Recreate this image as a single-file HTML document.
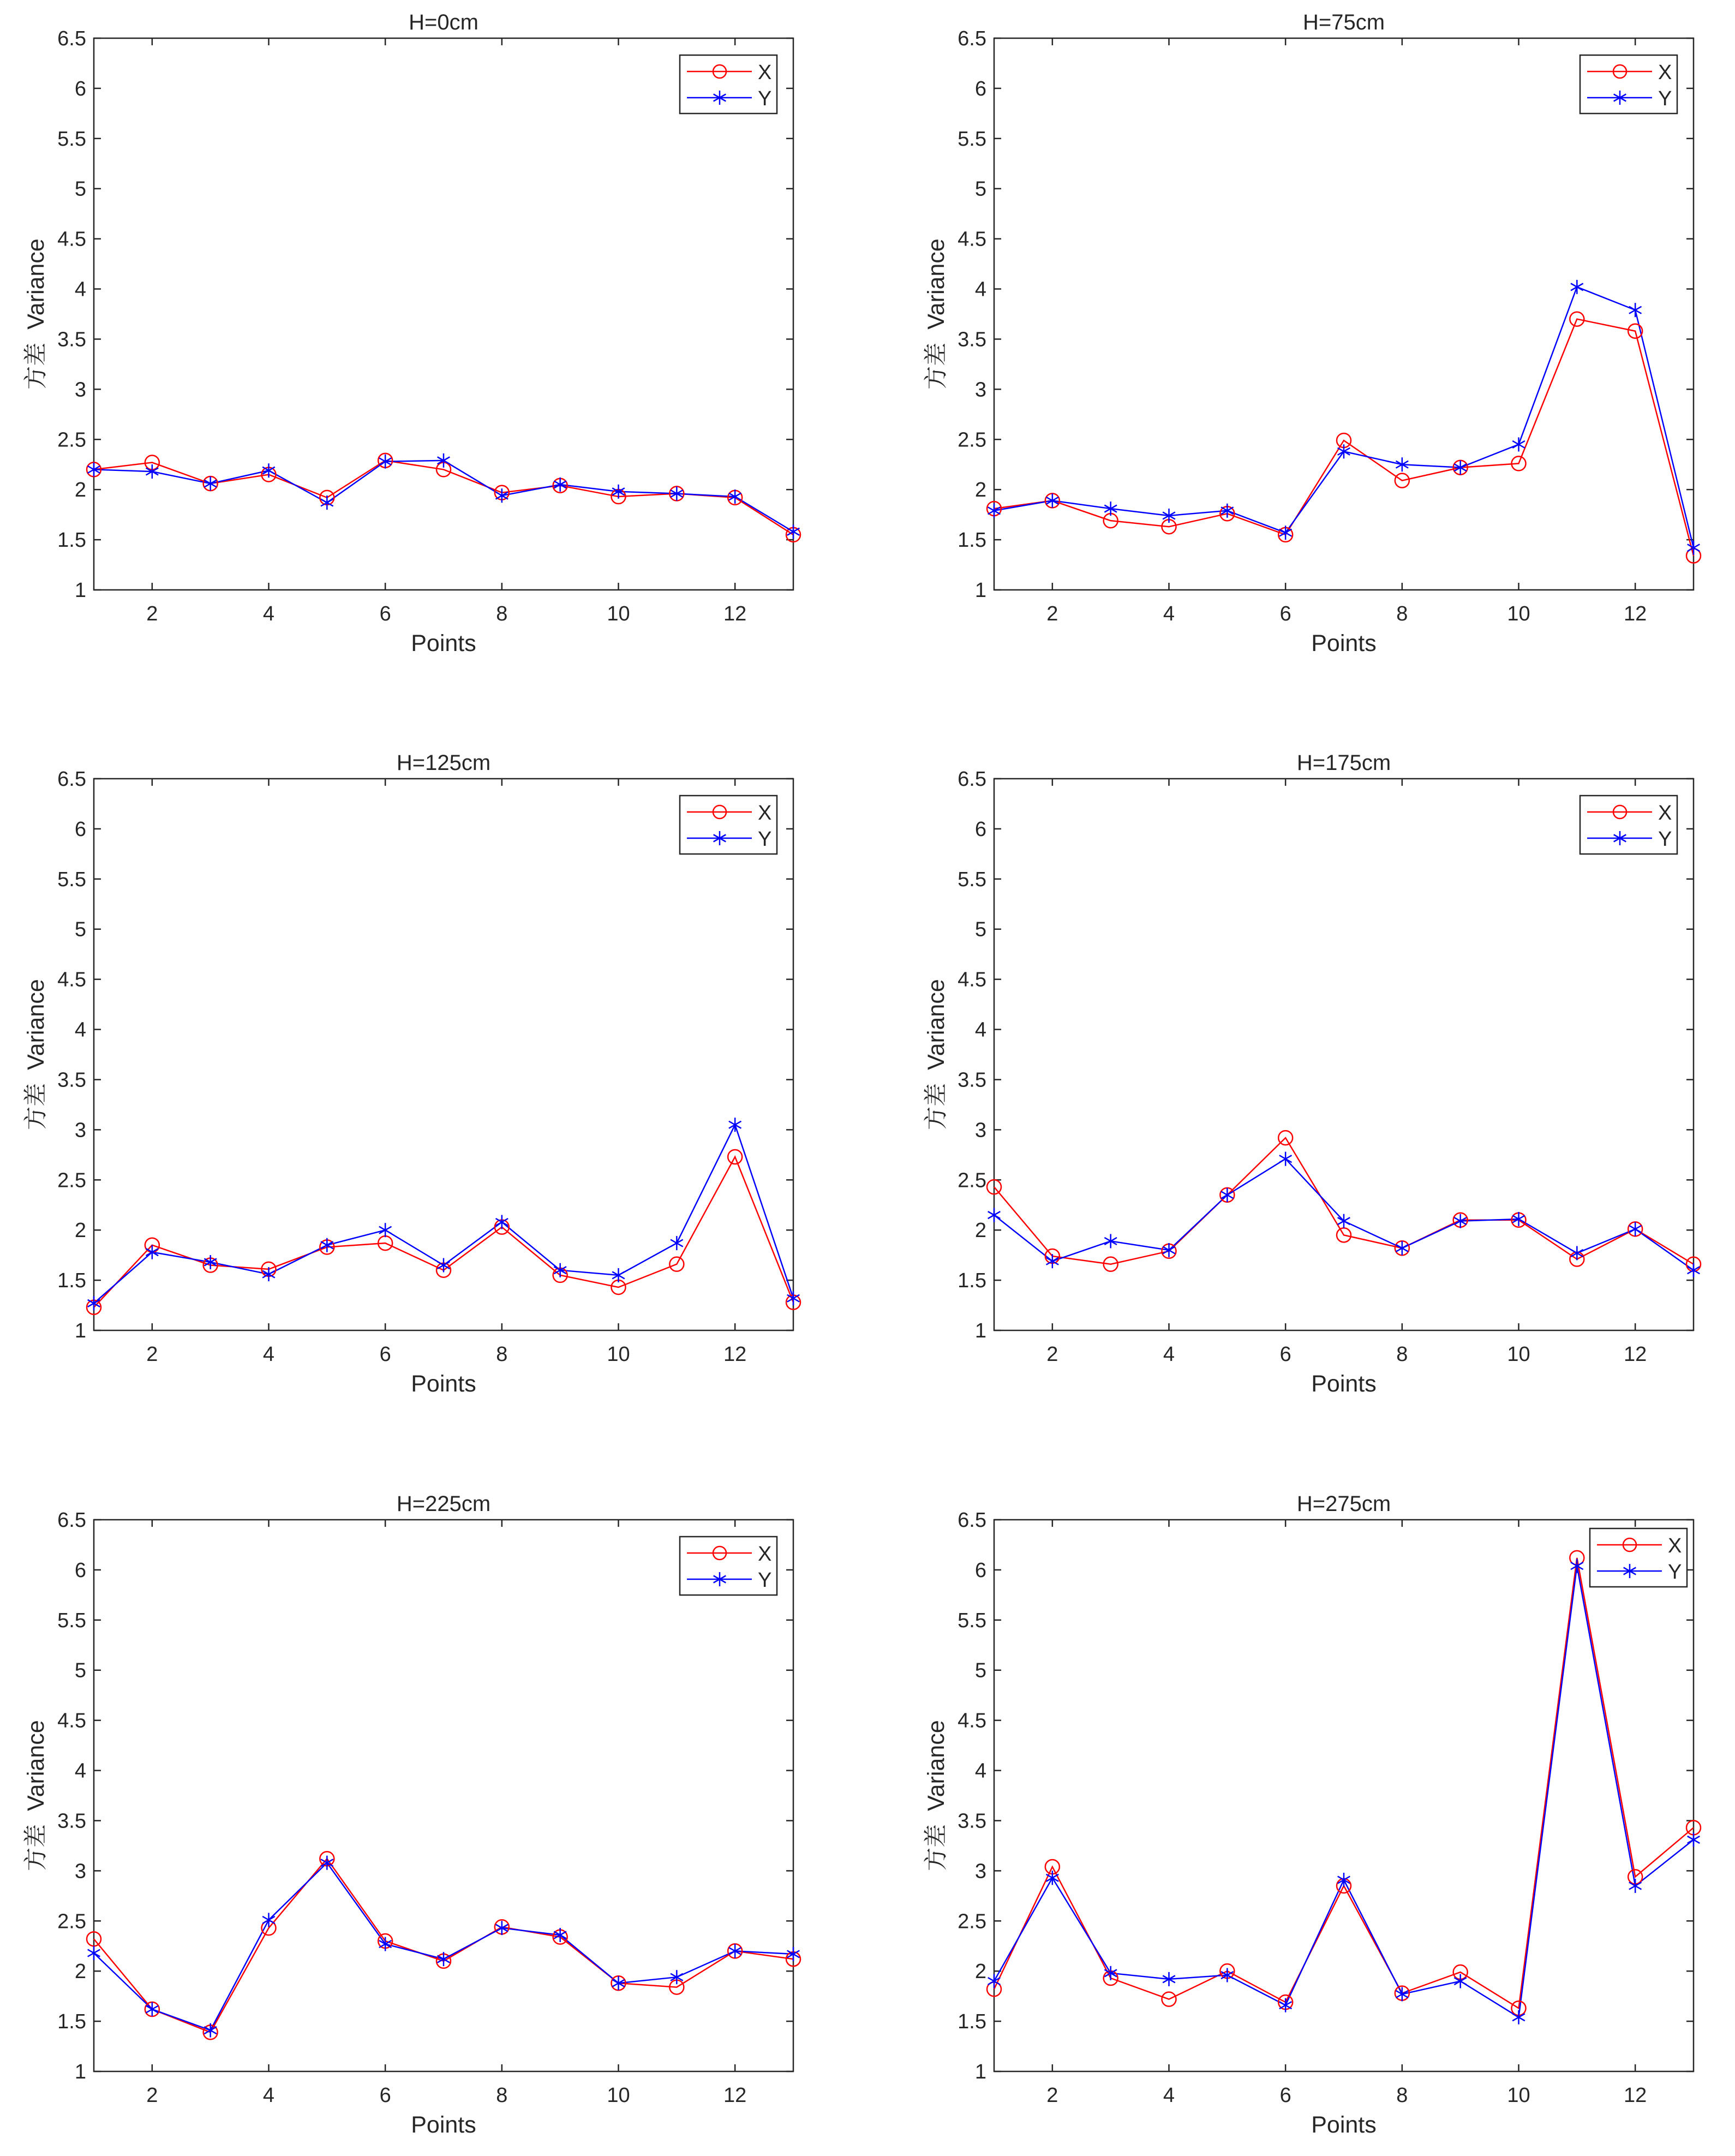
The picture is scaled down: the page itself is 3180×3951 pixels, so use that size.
<!DOCTYPE html>
<html><head><meta charset="utf-8">
<style>
html,body{margin:0;padding:0;background:#fff;}
svg{display:block;}
text{font-family:"Liberation Sans","Noto Sans CJK SC",sans-serif;fill:#262626;}
</style></head>
<body>
<svg id="fig" width="3180" height="3951" viewBox="0 0 3180 3951" xmlns="http://www.w3.org/2000/svg"></svg>
<script>
const titles = ["H=0cm","H=75cm","H=125cm","H=175cm","H=225cm","H=275cm"];
const points = [1,2,3,4,5,6,7,8,9,10,11,12,13];
const xTicks = [2,4,6,8,10,12];
const yTicks = [1,1.5,2,2.5,3,3.5,4,4.5,5,5.5,6,6.5];
const seriesX0 = [2.2,2.27,2.06,2.15,1.92,2.29,2.2,1.97,2.04,1.93,1.96,1.92,1.55];
const seriesY0 = [2.2,2.18,2.06,2.19,1.87,2.28,2.29,1.94,2.05,1.98,1.96,1.93,1.58];
const seriesX75 = [1.81,1.89,1.69,1.63,1.76,1.55,2.49,2.09,2.22,2.26,3.7,3.58,1.34];
const seriesY75 = [1.79,1.89,1.81,1.74,1.79,1.57,2.38,2.25,2.22,2.45,4.02,3.79,1.42];
const seriesX125 = [1.23,1.85,1.65,1.61,1.83,1.87,1.6,2.03,1.55,1.43,1.66,2.73,1.28];
const seriesY125 = [1.27,1.78,1.68,1.56,1.85,2.0,1.65,2.08,1.6,1.55,1.87,3.05,1.32];
const seriesX175 = [2.43,1.74,1.66,1.79,2.35,2.92,1.95,1.82,2.1,2.1,1.71,2.01,1.66];
const seriesY175 = [2.15,1.69,1.89,1.8,2.35,2.71,2.09,1.82,2.09,2.11,1.77,2.01,1.6];
const seriesX225 = [2.32,1.62,1.39,2.43,3.12,2.3,2.1,2.44,2.34,1.88,1.84,2.2,2.12];
const seriesY225 = [2.18,1.62,1.41,2.51,3.08,2.27,2.12,2.43,2.36,1.88,1.94,2.2,2.17];
const seriesX275 = [1.82,3.04,1.93,1.72,2.0,1.69,2.85,1.78,1.99,1.63,6.12,2.94,3.43];
const seriesY275 = [1.9,2.93,1.98,1.92,1.96,1.66,2.91,1.77,1.9,1.54,6.04,2.85,3.31];
const allX = [seriesX0,seriesX75,seriesX125,seriesX175,seriesX225,seriesX275];
const allY = [seriesY0,seriesY75,seriesY125,seriesY175,seriesY225,seriesY275];

const NS="http://www.w3.org/2000/svg";
const svg=document.getElementById('fig');
function mk(tag,attrs,parent){const e=document.createElementNS(NS,tag);for(const k in attrs)e.setAttribute(k,attrs[k]);(parent||svg).appendChild(e);return e;}

const colL=[172,1822], colW=1282;
const rowT=[70,1427,2785], rowH=1011;

for(let p=0;p<6;p++){
  const L=colL[p%2], T=rowT[Math.floor(p/2)], R=L+colW, B=T+rowH;
  const sx=v=>L+(v-1)/12*colW;
  const sy=v=>B-(v-1)/5.5*rowH;
  const g=mk('g',{});
  
  
  for(const t of xTicks){
    mk('line',{x1:sx(t),x2:sx(t),y1:B,y2:B-13,stroke:'#262626','stroke-width':2.5},g);
    mk('line',{x1:sx(t),x2:sx(t),y1:T,y2:T+13,stroke:'#262626','stroke-width':2.5},g);
    const tx=mk('text',{x:sx(t),y:B+56,'font-size':38,'text-anchor':'middle'},g);
    tx.textContent=t;
    
    
  }
  for(const t of yTicks){
    mk('line',{x1:L,x2:L+13,y1:sy(t),y2:sy(t),stroke:'#262626','stroke-width':2.5},g);
    mk('line',{x1:R,x2:R-13,y1:sy(t),y2:sy(t),stroke:'#262626','stroke-width':2.5},g);
    const tx=mk('text',{x:L-14,y:sy(t)+13,'font-size':38,'text-anchor':'end'},g);
    tx.textContent=t;
    
    
  }
  const box=mk('rect',{x:L,y:T,width:colW,height:rowH,fill:'none',stroke:'#262626','stroke-width':2.5},g);
  
  
  const ti=mk('text',{x:L+colW/2,y:T-16,'font-size':40,'text-anchor':'middle',fill:'#000'},g);
  ti.textContent=titles[p];
  
  
  const xl=mk('text',{x:L+colW/2,y:B+112,'font-size':43,'text-anchor':'middle'},g);
  xl.textContent='Points';
  
  
  const yl=mk('text',{x:0,y:0,'font-size':43,'text-anchor':'middle',transform:`translate(${L-92},${T+rowH/2}) rotate(-90)`},g);
  yl.innerHTML='<tspan style="font-family:\'Noto Serif CJK SC\',serif">方差</tspan><tspan dx="24">Variance</tspan>';
  
  
  const xs=allX[p], ys=allY[p];
  const lx=mk('polyline',{points:points.map((q,i)=>sx(q)+','+sy(xs[i])).join(' '),fill:'none',stroke:'#ff0000','stroke-width':2.5},g);
  
  
  const ly=mk('polyline',{points:points.map((q,i)=>sx(q)+','+sy(ys[i])).join(' '),fill:'none',stroke:'#0000ff','stroke-width':2.5},g);
  
  
  points.forEach((q,i)=>{
    const c=mk('circle',{cx:sx(q),cy:sy(xs[i]),r:13,fill:'none',stroke:'#ff0000','stroke-width':2.5},g);
    
    
  });
  function star(cx,cy,parent){
    const s=mk('g',{stroke:'#0000ff','stroke-width':2.5},parent);
    
    
    const r=13;
    mk('line',{x1:cx,x2:cx,y1:cy-r,y2:cy+r},s);
    mk('line',{x1:cx-r*0.87,x2:cx+r*0.87,y1:cy-r*0.5,y2:cy+r*0.5},s);
    mk('line',{x1:cx-r*0.87,x2:cx+r*0.87,y1:cy+r*0.5,y2:cy-r*0.5},s);
  }
  points.forEach((q,i)=>star(sx(q),sy(ys[i]),g));
  let lgR=R-30, lgT=T+31;
  if(p===5){lgR=R-12;lgT=T+16;}
  const lgL=lgR-178;
  const lg=mk('g',{},g);
  
  
  mk('rect',{x:lgL,y:lgT,width:178,height:107,fill:'#fff',stroke:'#262626','stroke-width':2.5},lg);
  const r1=lgT+30, r2=lgT+78;
  mk('line',{x1:lgL+13,x2:lgL+132,y1:r1,y2:r1,stroke:'#ff0000','stroke-width':2.5},lg);
  mk('circle',{cx:lgL+73,cy:r1,r:12,fill:'none',stroke:'#ff0000','stroke-width':2.5},lg);
  mk('line',{x1:lgL+13,x2:lgL+132,y1:r2,y2:r2,stroke:'#0000ff','stroke-width':2.5},lg);
  star(lgL+73,r2,lg);
  const t1=mk('text',{x:lgL+143,y:r1+14,'font-size':38,fill:'#000'},lg);t1.textContent='X';
  
  
  const t2=mk('text',{x:lgL+143,y:r2+14,'font-size':38,fill:'#000'},lg);t2.textContent='Y';
  
  
}
</script>
</body></html>
